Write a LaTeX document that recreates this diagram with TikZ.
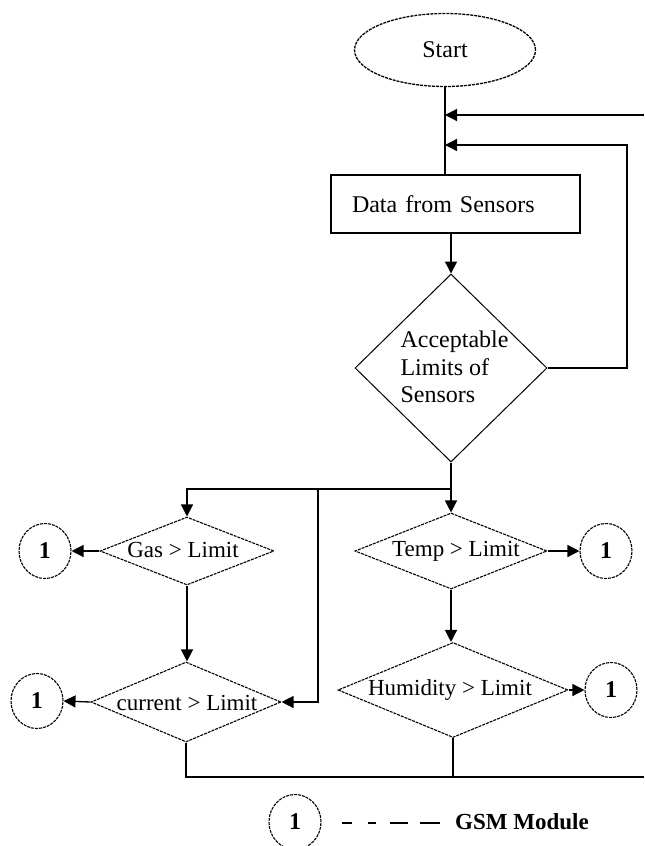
\documentclass[tikz,border=0pt]{standalone}
\usepackage{fontspec}
\setmainfont{Liberation Serif}
\usetikzlibrary{shapes.geometric,arrows.meta}

\begin{document}
\begin{tikzpicture}[x=0.5pt,y=-0.5pt,
  line width=0.65pt,
  every node/.style={font=\fontsize{12}{13.75}\selectfont, inner sep=0pt},
  dotline/.style={dash pattern=on 1.5pt off 0.5pt},
  flow/.style={-{Triangle[length=6pt,width=6pt]}},
  terminal/.style={ellipse, draw, dotline, minimum width=90.5pt, minimum height=36.5pt},
  process/.style={rectangle, draw, minimum width=124.5pt, minimum height=29pt,
                  text width=103.5pt, inner xsep=10.5pt, align=left},
  decision/.style={diamond, draw, line width=0.5pt},
  test/.style={diamond, draw, dotline, line width=0.55pt},
  label text/.style={font=\fontsize{11.5}{13}\selectfont},
  conn/.style={ellipse, draw, dotline, line width=0.55pt, minimum width=26pt,
               minimum height=27.5pt, font=\fontsize{12}{14}\selectfont\bfseries}
]
\useasboundingbox (0,0) rectangle (644,846);

% start and sensor read-out
\node[terminal] (start) at (445,50) {Start};
\node[process] (data) at (455.5,204) {Data from Sensors};

% main limit check
\node[decision, minimum width=96pt, minimum height=94pt] (acc) at (451,368) {};
\node[align=left] (acctext) at (454.5,367) {Acceptable\\Limits of\\Sensors};

% individual checks
\node[test, minimum width=87pt, minimum height=34pt] (gas) at (187,551) {};
\node[label text] (gastext) at (183,550) {Gas > Limit};
\node[test, minimum width=96pt, minimum height=38pt] (temp) at (451,551) {};
\node[label text] (temptext) at (456,551) {Temp > Limit};
\node[test, minimum width=95pt, minimum height=40pt] (cur) at (186,702) {};
\node[label text] (curtext) at (187,703) {current > Limit};
\node[test, minimum width=115pt, minimum height=47.5pt] (hum) at (453,690) {};
\node[label text] (humtext) at (450,690) {Humidity > Limit};

% GSM connectors
\node[conn] (c1) at (45,551) {1};
\node[conn] (c2) at (37,701) {1};
\node[conn] (c3) at (606,551) {1};
\node[conn] (c4) at (611,690) {1};

% loop-back points
\coordinate (m1) at (445,115);
\coordinate (m2) at (445,145);
\coordinate (r1) at (644,115);
\coordinate (r2) at (627,145);
\coordinate (split) at (451,489);
\coordinate (j1) at (318,489);
\coordinate (base) at (0,777);
\coordinate (rend) at (644,777);

\draw (start) -- (start.south |- data.north);
\draw[flow] (r1) -- (m1);
\draw[flow] (acc.east) -| (r2) -- (m2);
\draw[flow] (acc.north |- data.south) -- (acc.north);

\draw (acc.south) -- (split);
\draw[flow] (split) -- (temp.north);
\draw[flow] (split) -| (gas.north);
\draw[flow] (j1) |- (cur.east);

\draw[flow] (gas.west) -- (c1.east);
\draw[flow] (gas.south) -- (gas.south |- cur.north);
\draw[flow] (cur.west) -- (c2.east);
\draw[flow] (temp.east) -- (c3.west);
\draw[flow] (temp.south) -- (temp.south |- hum.north);
\draw[flow] (hum.east) -- (c4.west);

\draw (cur.south) -- (cur.south |- base) -- (rend);
\draw (hum.south) -- (hum.south |- base);

% legend
\node[conn] (c5) at (295,822) {1};
\coordinate (l1) at (342,823);
\coordinate (l2) at (440,823);
\draw[dash pattern=on 5pt off 8pt on 4pt off 7pt on 9pt off 6pt on 10pt off 10pt] (l1) -- (l2);
\node[font=\fontsize{11.5}{13}\selectfont\bfseries] (gsm) at (522,822) {GSM Module};
\end{tikzpicture}
\end{document}
